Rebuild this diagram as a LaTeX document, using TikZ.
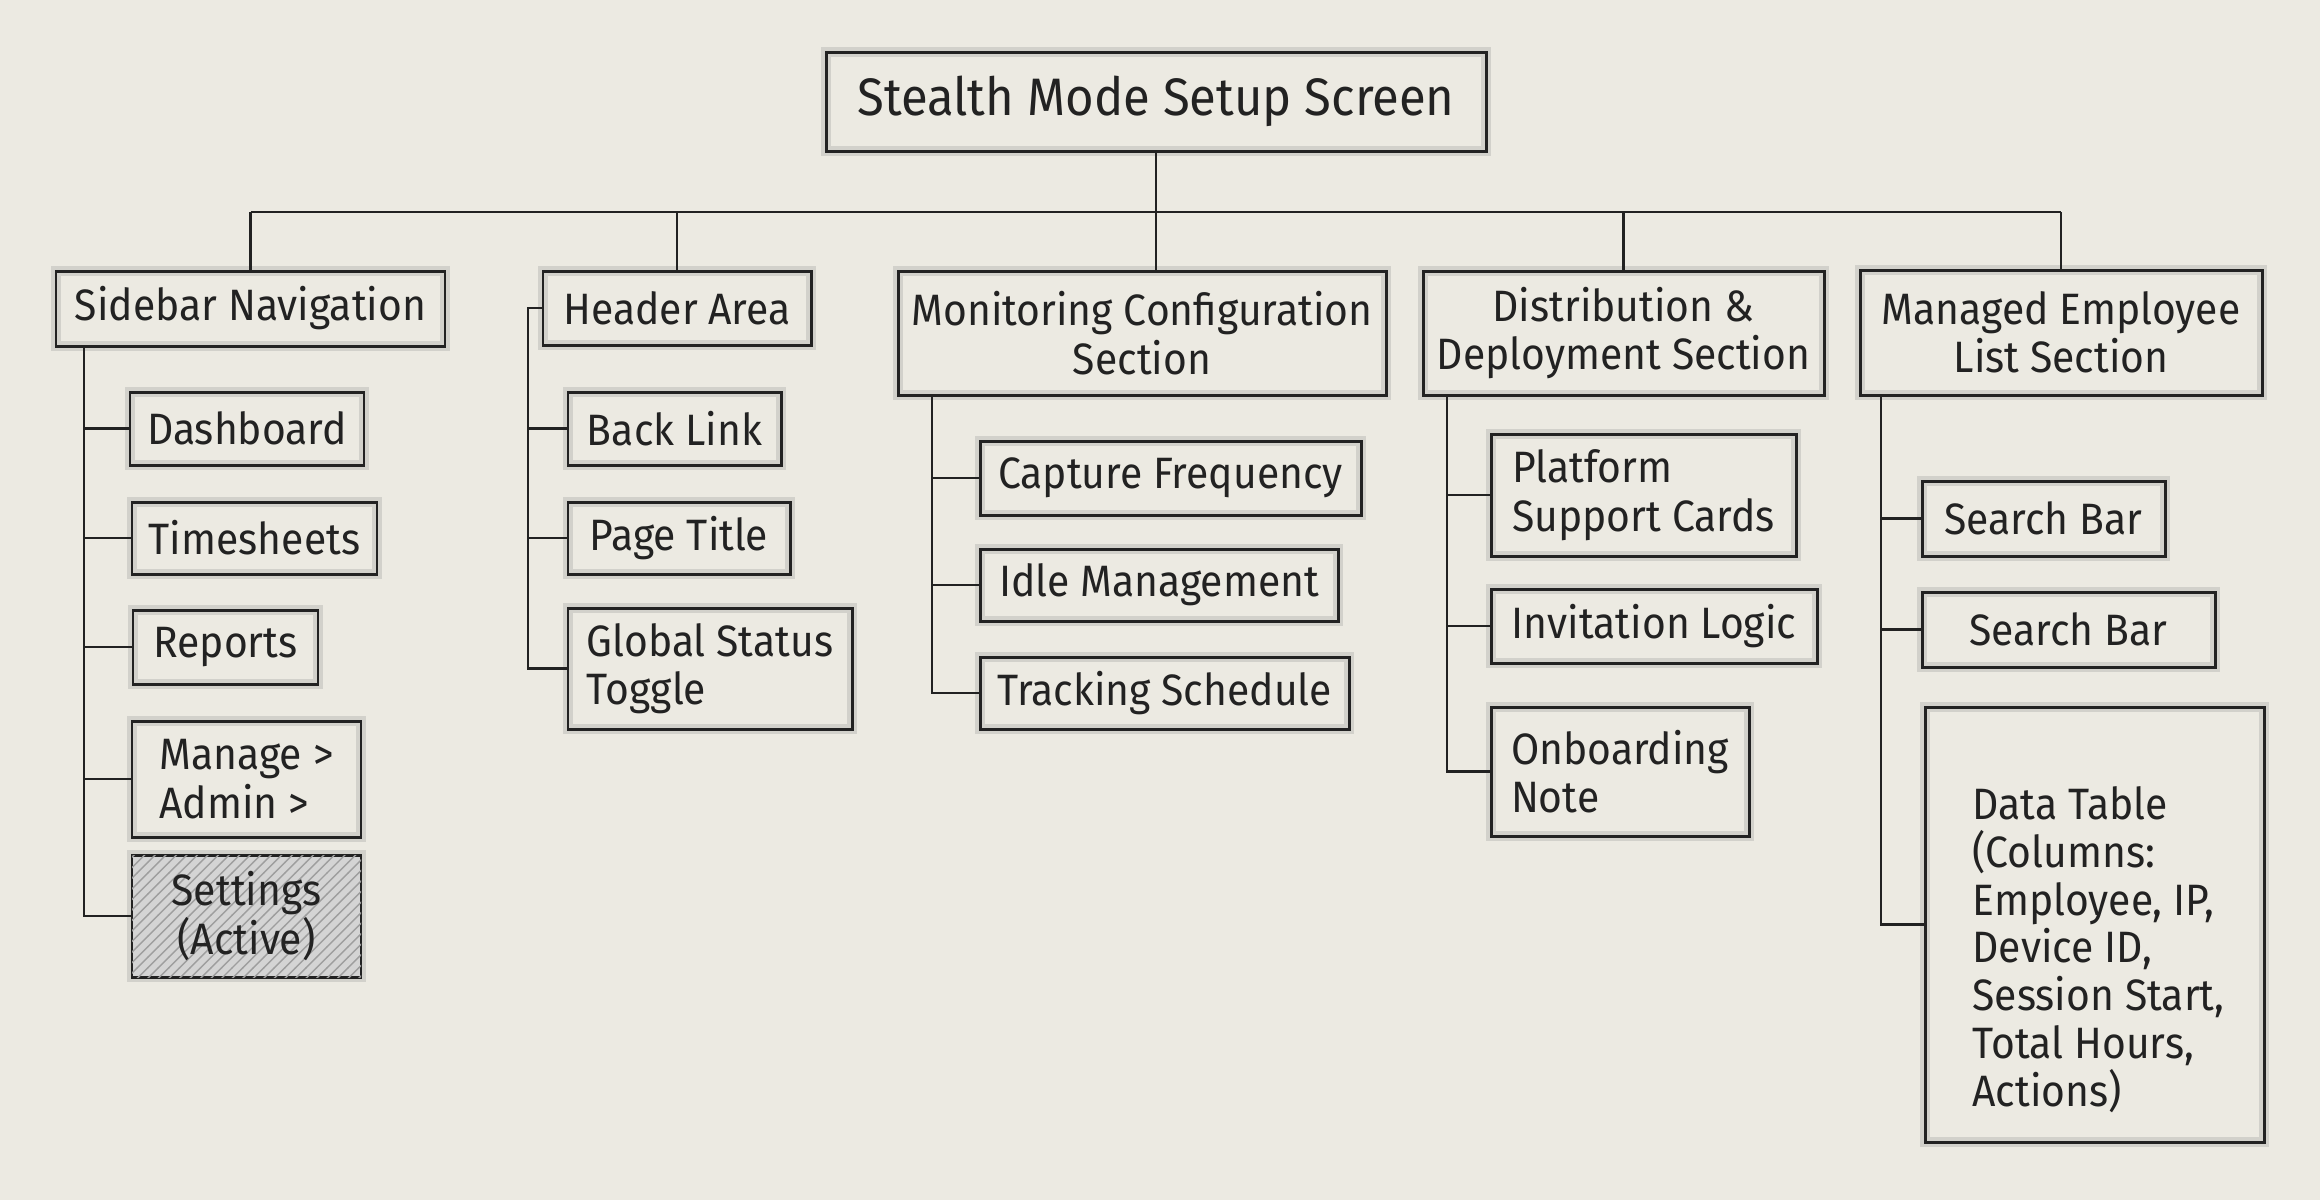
\documentclass[tikz,border=0pt]{standalone}
\usepackage{fontspec}
\setmainfont[FakeStretch=0.93]{Fira Sans}
\usetikzlibrary{patterns}
\definecolor{paper}{RGB}{236,234,226}
\definecolor{ink}{RGB}{34,34,34}
\begin{document}
\begin{tikzpicture}[
  box/.style={draw=ink, line width=0.85pt,
    preaction={draw=ink!60, line width=2.6pt, opacity=0.22},
    inner sep=0pt, align=center, text=ink,
    font=\fontsize{12.5}{13.8}\selectfont},
  lbox/.style={box, align=left},
  link/.style={draw=ink, line width=0.7pt},
  activebox/.style={fill=black!17, postaction={pattern=north east lines, pattern color=black!38}}
]
\useasboundingbox (0,0) rectangle (23.2,-12);
\fill[paper] (0,0) rectangle (23.2,-12);

% root
\node[box, minimum width=6.60cm, minimum height=0.99cm, font=\fontsize{15}{17}\selectfont] (root) at (11.56,-1.015) {Stealth Mode Setup Screen};

% level 1
\node[box, minimum width=3.89cm, minimum height=0.75cm] (side) at (2.505,-3.085) {Sidebar Navigation};
\node[box, minimum width=2.68cm, minimum height=0.74cm] (head) at (6.77,-3.08) {Header Area};
\node[box, minimum width=4.88cm, minimum height=1.24cm] (mon) at (11.42,-3.33) {Monitoring Configuration\\Section};
\node[box, minimum width=4.01cm, minimum height=1.24cm] (dist) at (16.235,-3.33) {Distribution \&\\Deployment Section};
\node[box, minimum width=4.02cm, minimum height=1.25cm] (emp) at (20.61,-3.325) {Managed Employee\\List Section};

% sidebar children
\node[box, minimum width=2.34cm, minimum height=0.73cm] (dash) at (2.47,-4.285) {Dashboard};
\node[box, minimum width=2.45cm, minimum height=0.72cm] (times) at (2.545,-5.38) {Timesheets};
\node[box, minimum width=1.85cm, minimum height=0.74cm] (rep) at (2.255,-6.47) {Reports};
\node[lbox, minimum width=2.29cm, minimum height=1.16cm] (man) at (2.465,-7.79) {Manage >\\Admin >};
\node[box, activebox, minimum width=2.29cm, minimum height=1.22cm] (set) at (2.465,-9.16) {Settings\\(Active)};

% header children
\node[box, minimum width=2.13cm, minimum height=0.73cm] (back) at (6.745,-4.285) {Back Link};
\node[box, minimum width=2.22cm, minimum height=0.72cm] (title) at (6.79,-5.38) {Page Title};
\node[lbox, minimum width=2.84cm, minimum height=1.21cm] (glob) at (7.10,-6.685) {Global Status\\Toggle};

% monitoring children
\node[box, minimum width=3.81cm, minimum height=0.74cm] (cap) at (11.705,-4.78) {Capture Frequency};
\node[box, minimum width=3.58cm, minimum height=0.72cm] (idle) at (11.59,-5.85) {Idle Management};
\node[box, minimum width=3.69cm, minimum height=0.72cm] (track) at (11.645,-6.93) {Tracking Schedule};

% distribution children
\node[lbox, minimum width=3.05cm, minimum height=1.22cm] (plat) at (16.435,-4.95) {Platform\\Support Cards};
\node[box, minimum width=3.26cm, minimum height=0.74cm] (inv) at (16.54,-6.26) {Invitation Logic};
\node[lbox, minimum width=2.58cm, minimum height=1.29cm] (onb) at (16.20,-7.715) {Onboarding\\Note};

% employee list children
\node[box, minimum width=2.43cm, minimum height=0.75cm] (sb1) at (20.435,-5.185) {Search Bar};
\node[box, minimum width=2.93cm, minimum height=0.75cm] (sb2) at (20.685,-6.295) {Search Bar};
\node[box, minimum width=3.39cm, minimum height=4.35cm,
  label={[align=left, text=ink, font=\fontsize{12.5}{13.6}\selectfont, yshift=-0.25cm, xshift=0.04cm]center:{Data Table\\(Columns:\\Employee, IP,\\Device ID,\\Session Start,\\Total Hours,\\Actions)}}] (tab) at (20.945,-9.245) {};

% bus
\coordinate (busy) at (0,-2.12);
\draw[link] (root.south) -- (root.south |- mon.north);
\draw[link] (side.north |- busy) -- (emp.north |- busy);
\draw[link] (side.north) -- (side.north |- busy);
\draw[link] (head.north) -- (head.north |- busy);
\draw[link] (dist.north) -- (dist.north |- busy);
\draw[link] (emp.north) -- (emp.north |- busy);

% sidebar trunk
\coordinate (sbT) at (0.84,-3.46);
\draw[link] (sbT) |- (set.west);
\draw[link] (dash.west) -- (dash.west -| sbT);
\draw[link] (times.west) -- (times.west -| sbT);
\draw[link] (rep.west) -- (rep.west -| sbT);
\draw[link] (man.west) -- (man.west -| sbT);

% header trunk
\coordinate (hdT) at (5.28,-3.08);
\draw[link] (head.west) -- (hdT) |- (glob.west);
\draw[link] (back.west) -- (back.west -| hdT);
\draw[link] (title.west) -- (title.west -| hdT);

% monitoring trunk
\coordinate (mnT) at (9.32,-3.95);
\draw[link] (mnT) |- (track.west);
\draw[link] (cap.west) -- (cap.west -| mnT);
\draw[link] (idle.west) -- (idle.west -| mnT);

% distribution trunk
\coordinate (dsT) at (14.47,-3.95);
\draw[link] (dsT) |- (onb.west);
\draw[link] (plat.west) -- (plat.west -| dsT);
\draw[link] (inv.west) -- (inv.west -| dsT);

% employee trunk
\coordinate (emT) at (18.81,-3.95);
\draw[link] (emT) |- (tab.west);
\draw[link] (sb1.west) -- (sb1.west -| emT);
\draw[link] (sb2.west) -- (sb2.west -| emT);
\end{tikzpicture}
\end{document}
